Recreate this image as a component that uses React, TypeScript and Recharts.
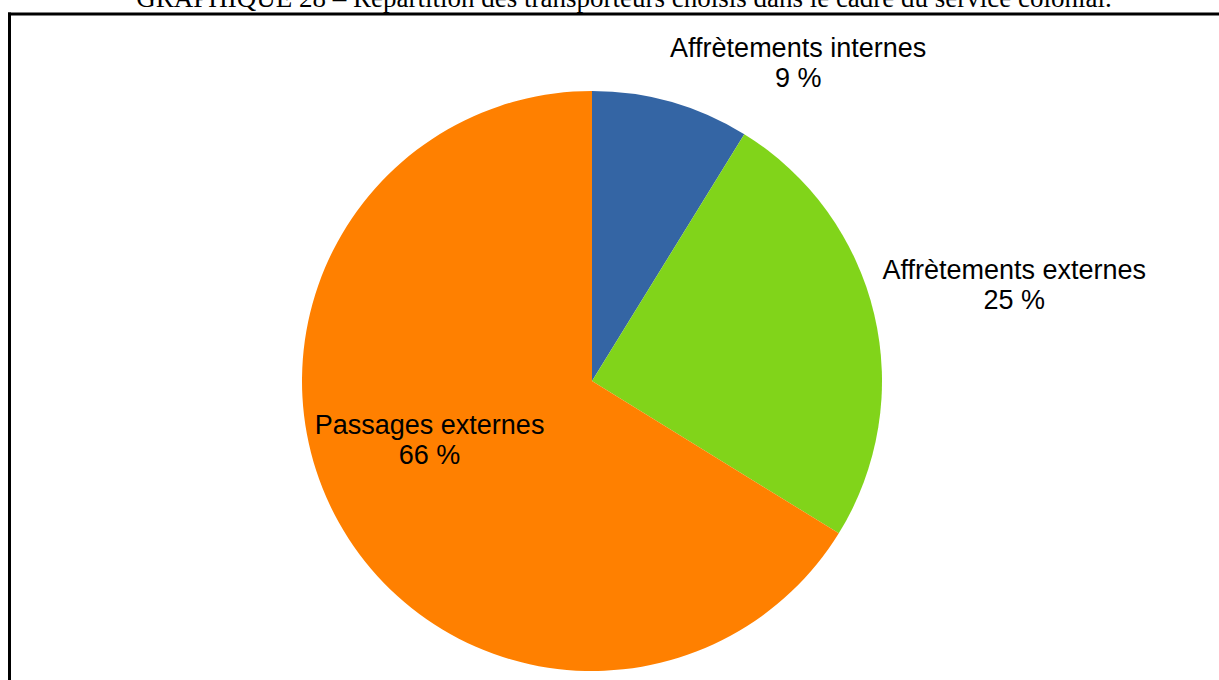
import { PieChart, Pie, Cell } from "recharts";

const CATEGORIES = ["Affrètements internes", "Affrètements externes", "Passages externes"];
const SHARES = [8.8, 25.0, 66.2];
const SHARE_LABELS = ["9 %", "25 %", "66 %"];
const COLORS = ["#3465a4", "#81d41a", "#ff8000"];

const TITLE =
  "GRAPHIQUE 28 – Répartition des transporteurs choisis dans le cadre du service colonial.";

const data = CATEGORIES.map((name, i) => ({
  name,
  value: SHARES[i],
  label: SHARE_LABELS[i],
}));

// where each label block sits, relative to the slice's mid-angle point
const LABEL_PLACE = [
  { r: 1, dx: 127, dy: -40 },
  { r: 1, dx: 140, dy: -30 },
  { r: 0.59, dx: -13, dy: -25 },
];

const RAD = Math.PI / 180;

function SliceLabel(props: any) {
  const { cx, cy, midAngle, outerRadius, index, name, payload } = props;
  const place = LABEL_PLACE[index];
  const x = cx + outerRadius * place.r * Math.cos(-midAngle * RAD) + place.dx;
  const y = cy + outerRadius * place.r * Math.sin(-midAngle * RAD) + place.dy;
  return (
    <text
      x={x}
      y={y}
      textAnchor="middle"
      fill="#000"
      fontFamily="'Liberation Sans', Arial, sans-serif"
      fontSize={27}
    >
      <tspan x={x} dy={-5}>
        {name}
      </tspan>
      <tspan x={x} dy={30}>
        {payload.label}
      </tspan>
    </text>
  );
}

export default function App() {
  return (
    <div
      style={{
        position: "absolute",
        top: 0,
        left: 0,
        width: 1219,
        height: 680,
        overflow: "hidden",
        background: "#fff",
      }}
    >
      <svg
        width={1219}
        height={680}
        style={{ position: "absolute", top: 0, left: 0 }}
      >
        <text
          x={624}
          y={7}
          textAnchor="middle"
          fontFamily="'Liberation Serif', 'Times New Roman', serif"
          fontSize={27}
          fill="#000"
        >
          {TITLE}
        </text>
        <line x1={8} y1={14} x2={1219} y2={14} stroke="#000" strokeWidth={3} />
        <line x1={9.5} y1={12.5} x2={9.5} y2={680} stroke="#000" strokeWidth={3} />
      </svg>
      <div style={{ position: "absolute", top: 0, left: 0 }}>
        <PieChart
          width={1219}
          height={680}
          margin={{ top: 0, right: 0, bottom: 0, left: 0 }}
        >
          <Pie
            data={data}
            dataKey="value"
            nameKey="name"
            cx={592}
            cy={381}
            outerRadius={290}
            startAngle={90}
            endAngle={-270}
            stroke="none"
            label={SliceLabel}
            labelLine={false}
            isAnimationActive={false}
          >
            {data.map((d, i) => (
              <Cell key={d.name} fill={COLORS[i]} />
            ))}
          </Pie>
        </PieChart>
      </div>
    </div>
  );
}
